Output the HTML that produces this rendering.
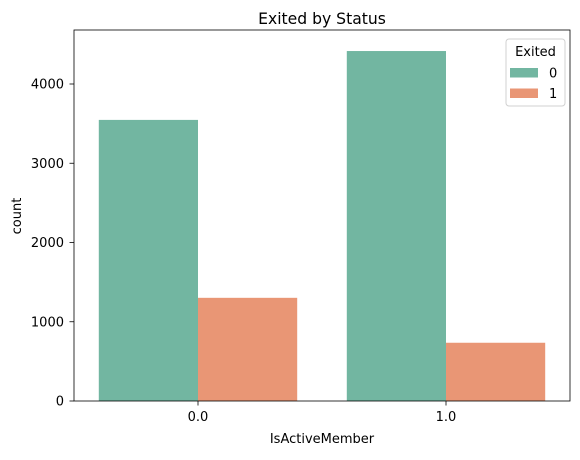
<!DOCTYPE html>
<html><head><meta charset="utf-8"><style>
body{margin:0;background:#fff;}
svg text{font-family:"DejaVu Sans","Liberation Sans",sans-serif;fill:#000;}
</style></head><body>
<svg id="chart" width="580" height="455" xmlns="http://www.w3.org/2000/svg">
<text x="322" y="24" font-size="15.6" text-anchor="middle">Exited by Status</text>
<g id="plot"></g>
<text x="322" y="443" font-size="13" text-anchor="middle">IsActiveMember</text>
<text x="21" y="216" font-size="13" text-anchor="middle" transform="rotate(-90 21 216)">count</text>
</svg>
<script>
const categories = ["0.0", "1.0"];
const seriesNames = ["0", "1"];
const exited0 = [3547, 4416];
const exited1 = [1302, 735];
const yTicks = [0, 1000, 2000, 3000, 4000];
const colors = ["#72b6a1", "#e99675"];

const L = 74, R = 570, T = 30, B = 401;
const NS = "http://www.w3.org/2000/svg";
const plot = document.getElementById("plot");
function y(v){ return B - v * (B - 84) / 4000; }
const band = (R - L) / categories.length;
function xc(i){ return L + band * (i + 0.5); }
function mk(tag, attrs){ const e = document.createElementNS(NS, tag); for (const k in attrs) e.setAttribute(k, attrs[k]); plot.appendChild(e); return e; }

const series = [exited0, exited1];
const bw = band * 0.4;
series.forEach((vals, s) => {
  vals.forEach((v, i) => {
    const x0 = xc(i) - bw + s * bw;
    const r = mk("rect", {x: x0, y: y(v), width: bw, height: B - y(v), fill: colors[s]});
    
    
  });
});

yTicks.forEach(t => {
  const l = mk("line", {x1: L - 4.5, x2: L, y1: y(t), y2: y(t), stroke: "#000", "stroke-width": 0.8});
  
  
  const tx = mk("text", {x: L - 10, y: y(t) + 4.5, "font-size": 13, "text-anchor": "end"});
  tx.textContent = t;
  
  
});
categories.forEach((c, i) => {
  const l = mk("line", {x1: xc(i), x2: xc(i), y1: B, y2: B + 4.5, stroke: "#000", "stroke-width": 0.8});
  
  
  const tx = mk("text", {x: xc(i), y: B + 20, "font-size": 13, "text-anchor": "middle"});
  tx.textContent = c;
  
  
});
const frame = mk("rect", {x: L, y: T, width: R - L, height: B - T, fill: "none", stroke: "#000", "stroke-width": 0.8});



const lg = mk("rect", {x: 506, y: 39, width: 59, height: 67, rx: 3, fill: "#fff", stroke: "#ccc", "stroke-width": 1, opacity: 0.9});


const lt = mk("text", {x: 535.5, y: 56, "font-size": 13, "text-anchor": "middle"});
lt.textContent = "Exited";


seriesNames.forEach((n, s) => {
  const yy = 68 + s * 20.5;
  const sw = mk("rect", {x: 510, y: yy, width: 28, height: 9.5, fill: colors[s]});
  
  
  const t = mk("text", {x: 549, y: yy + 9.5, "font-size": 13});
  t.textContent = n;
  
  
});
</script>
</body></html>
